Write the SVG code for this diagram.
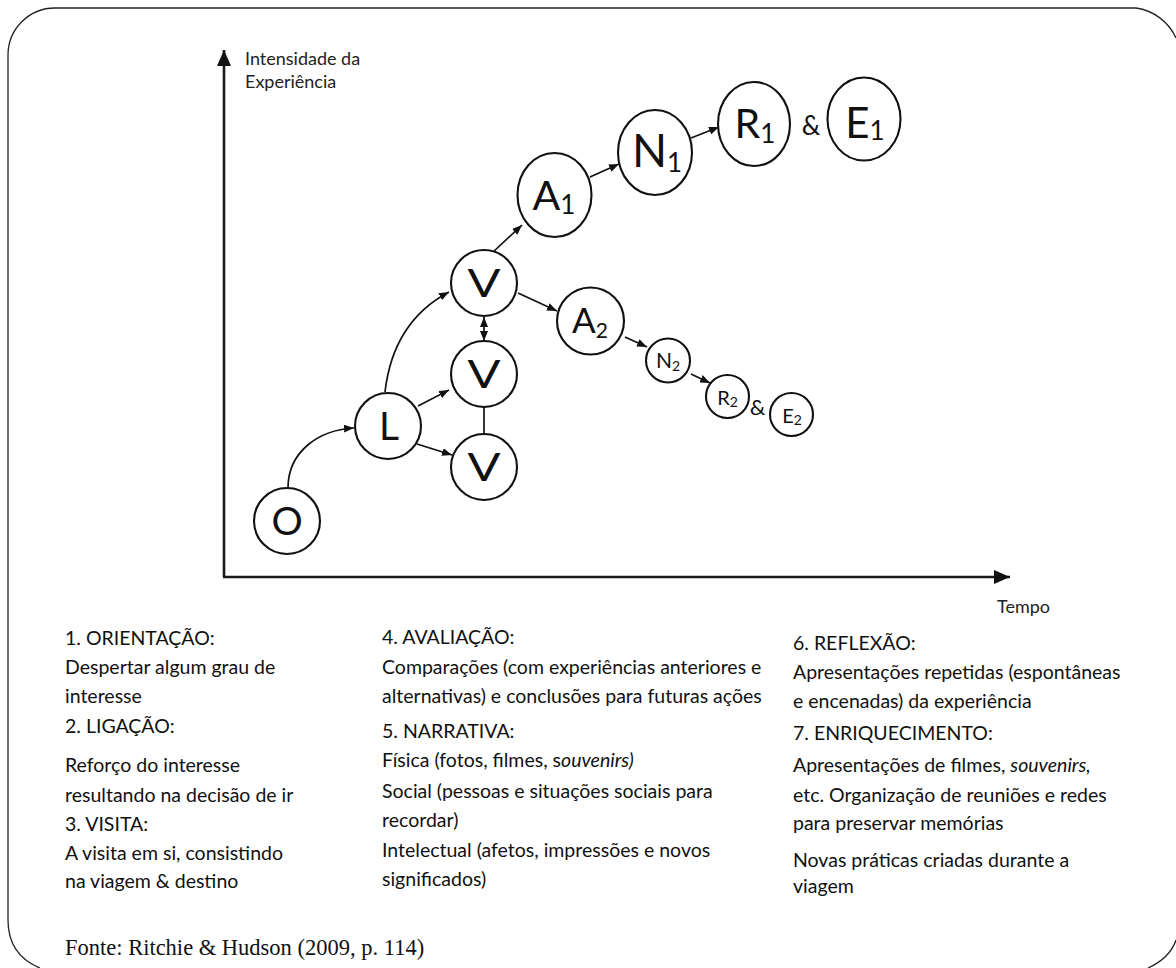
<svg xmlns="http://www.w3.org/2000/svg" width="1176" height="968" viewBox="0 0 1176 968">
  <style>
    .frame { fill: none; stroke: #222; stroke-width: 1.3; }
    .axis { fill: none; stroke: #1a1a1a; stroke-width: 2.6; }
    .node { fill: #fff; stroke: #111; stroke-width: 2.1; }
    .edge { fill: none; stroke: #111; stroke-width: 1.7; }
    .lbl { font-family: Lato, "Open Sans", sans-serif; fill: #111; text-anchor: middle; }
    .axl { font-family: Lato, "Open Sans", sans-serif; font-size: 18px; fill: #222; }
    .body { font-family: Lato, "Open Sans", sans-serif; font-size: 19.5px; fill: #111; }
    .src { font-family: "Liberation Serif", "DejaVu Serif", serif; font-size: 22.5px; fill: #111; }
  </style>
  <defs>
    <marker id="arr" viewBox="0 0 10 8" refX="10" refY="4" markerWidth="10" markerHeight="8" markerUnits="userSpaceOnUse" orient="auto-start-reverse">
      <path d="M0,0 L10,4 L0,8 z" fill="#111"/>
    </marker>
    <marker id="axarr" viewBox="0 0 16 14" refX="16" refY="7" markerWidth="16" markerHeight="14" markerUnits="userSpaceOnUse" orient="auto">
      <path d="M0,0 L16,7 L0,14 z" fill="#111"/>
    </marker>
  </defs>

  <rect width="1176" height="968" fill="#fff"/>

  <!-- outer border with rounded corners -->
  <path class="frame" d="M1176,38 A52,52 0 0 0 1136,8 L55,8 A47,47 0 0 0 8,55 L8,920 Q8,955 40,968"/>
  <path class="frame" d="M1148,968 Q1170,958 1176,940"/>

  <!-- axes -->
  <g id="axes">
    <path class="axis" d="M224,577 L224,50" marker-end="url(#axarr)"/>
    <path class="axis" d="M223,577 L1010,577" marker-end="url(#axarr)"/>
    <text class="axl" x="245" y="65">Intensidade da</text>
    <text class="axl" x="245" y="88">Experiência</text>
    <text class="axl" x="997" y="613">Tempo</text>
  </g>

  <!-- connectors -->
  <g id="connectors">
    <path class="edge" d="M288,488 C288,452 318,430 354,428" marker-end="url(#arr)"/>
    <path class="edge" d="M385,392 C391,340 415,310 449,292" marker-end="url(#arr)"/>
    <path class="edge" d="M418,406 L449,390" marker-end="url(#arr)"/>
    <path class="edge" d="M417,444 L452,455" marker-end="url(#arr)"/>
    <path class="edge" d="M484,317 L484,341" marker-start="url(#arr)" marker-end="url(#arr)"/>
    <path class="edge" d="M484,407 L484,434"/>
    <path class="edge" d="M492,253 L522,225" marker-end="url(#arr)"/>
    <path class="edge" d="M518,293 L557,311" marker-end="url(#arr)"/>
    <path class="edge" d="M590,177 L619,164" marker-end="url(#arr)"/>
    <path class="edge" d="M691,138 L719,127" marker-end="url(#arr)"/>
    <path class="edge" d="M625,337 L647,347" marker-end="url(#arr)"/>
    <path class="edge" d="M691,374 L710,383" marker-end="url(#arr)"/>
  </g>

  <!-- stage nodes -->
  <g id="node-O">
    <circle class="node" cx="287" cy="521" r="33"/>
    <text class="lbl" x="287" y="535" font-size="39">O</text>
  </g>
  <g id="node-L">
    <circle class="node" cx="388" cy="426" r="33"/>
    <text class="lbl" x="389" y="440" font-size="39">L</text>
  </g>
  <g id="node-V1">
    <circle class="node" cx="484" cy="283" r="33"/>
    <text class="lbl" transform="translate(484,297) scale(1.25,1)" font-size="39">V</text>
  </g>
  <g id="node-V2">
    <circle class="node" cx="484" cy="374" r="33"/>
    <text class="lbl" transform="translate(484,388) scale(1.25,1)" font-size="39">V</text>
  </g>
  <g id="node-V3">
    <circle class="node" cx="484" cy="467" r="33"/>
    <text class="lbl" transform="translate(484,481) scale(1.25,1)" font-size="39">V</text>
  </g>
  <g id="node-A1">
    <ellipse class="node" cx="554.5" cy="195" rx="37" ry="42"/>
    <text class="lbl" x="554" y="210" font-size="41">A<tspan font-size="26" dy="4">1</tspan></text>
  </g>
  <g id="node-N1">
    <ellipse class="node" cx="655" cy="152.5" rx="37" ry="42.5"/>
    <text class="lbl" x="657" y="167" font-size="46">N<tspan font-size="26" dy="5">1</tspan></text>
  </g>
  <g id="node-R1">
    <ellipse class="node" cx="754" cy="124" rx="36" ry="42"/>
    <text class="lbl" x="755" y="138" font-size="41">R<tspan font-size="26" dy="5">1</tspan></text>
  </g>
  <text class="lbl" x="811" y="135" font-size="26">&amp;</text>
  <g id="node-E1">
    <ellipse class="node" cx="864" cy="119" rx="36.5" ry="41.5"/>
    <text class="lbl" x="865" y="138" font-size="42">E<tspan font-size="26" dy="2">1</tspan></text>
  </g>
  <g id="node-A2">
    <circle class="node" cx="590.5" cy="321" r="33.5"/>
    <text class="lbl" x="590" y="333" font-size="35">A<tspan font-size="21" dy="5">2</tspan></text>
  </g>
  <g id="node-N2">
    <circle class="node" cx="668" cy="360.5" r="22"/>
    <text class="lbl" x="668" y="368" font-size="21">N<tspan font-size="14" dy="3">2</tspan></text>
  </g>
  <g id="node-R2">
    <circle class="node" cx="727.5" cy="396.5" r="21.5"/>
    <text class="lbl" x="727.5" y="405" font-size="20">R<tspan font-size="14" dy="2">2</tspan></text>
  </g>
  <text class="lbl" x="757.5" y="415" font-size="22">&amp;</text>
  <g id="node-E2">
    <circle class="node" cx="791.5" cy="414.5" r="21.5"/>
    <text class="lbl" x="792" y="422.5" font-size="20">E<tspan font-size="14" dy="2">2</tspan></text>
  </g>

  <!-- legend, column 1 -->
  <g id="legend-1" class="body">
    <text x="65" y="645">1. ORIENTAÇÃO:</text>
    <text x="65" y="674">Despertar algum grau de</text>
    <text x="65" y="703">interesse</text>
    <text x="65" y="733">2. LIGAÇÃO:</text>
    <text x="65" y="772">Reforço do interesse</text>
    <text x="65" y="802">resultando na decisão de ir</text>
    <text x="65" y="831">3. VISITA:</text>
    <text x="65" y="860">A visita em si, consistindo</text>
    <text x="65" y="888">na viagem &amp; destino</text>
  </g>

  <!-- legend, column 2 -->
  <g id="legend-2" class="body">
    <text x="382" y="644">4. AVALIAÇÃO:</text>
    <text x="382" y="674">Comparações (com experiências anteriores e</text>
    <text x="382" y="703">alternativas) e conclusões para futuras ações</text>
    <text x="382" y="738">5. NARRATIVA:</text>
    <text x="382" y="767">Física (fotos, filmes, s<tspan font-style="italic">ouvenirs)</tspan></text>
    <text x="382" y="798">Social (pessoas e situações sociais para</text>
    <text x="382" y="827">recordar)</text>
    <text x="382" y="857">Intelectual (afetos, impressões e novos</text>
    <text x="382" y="886">significados)</text>
  </g>

  <!-- legend, column 3 -->
  <g id="legend-3" class="body">
    <text x="793" y="650">6. REFLEXÃO:</text>
    <text x="793" y="679">Apresentações repetidas (espontâneas</text>
    <text x="793" y="708">e encenadas) da experiência</text>
    <text x="793" y="740">7. ENRIQUECIMENTO:</text>
    <text x="793" y="772">Apresentações de filmes, <tspan font-style="italic">souvenirs,</tspan></text>
    <text x="793" y="802">etc. Organização de reuniões e redes</text>
    <text x="793" y="830">para preservar memórias</text>
    <text x="793" y="867">Novas práticas criadas durante a</text>
    <text x="793" y="893">viagem</text>
  </g>

  <text class="src" x="65" y="955">Fonte: Ritchie &amp; Hudson (2009, p. 114)</text>
</svg>
